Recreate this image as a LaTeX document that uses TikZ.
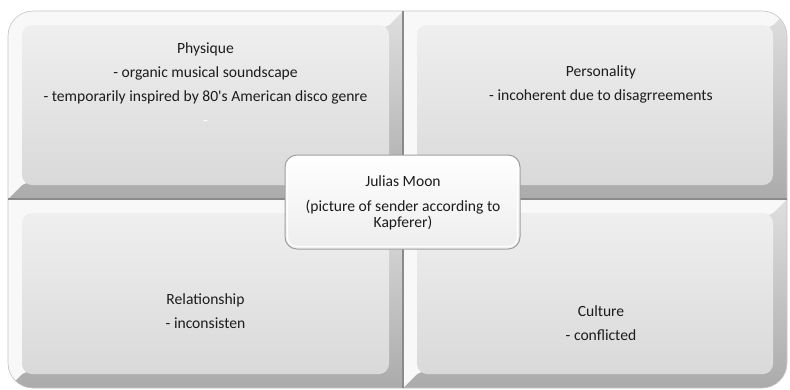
\documentclass[tikz,border=0pt]{standalone}
\usepackage{fontspec}
\setmainfont{Carlito}
\definecolor{txt}{HTML}{1C1C1C}
\definecolor{sepline}{HTML}{8A8A8A}
\definecolor{bevlo}{HTML}{C9C9C9}
\definecolor{bevhi}{HTML}{F8F8F8}
\definecolor{facetop}{HTML}{EFEFEF}
\definecolor{facebot}{HTML}{D9D9D9}
\begin{document}
\begin{tikzpicture}[x=1pt,y=1pt,
  basedark/.style={top color=bevlo!60!white, bottom color=bevlo!85!black},
  lightband/.style={fill=bevhi},
  facefill/.style={top color=facetop, bottom color=facebot, rounded corners=10},
  sepstyle/.style={draw=sepline, line width=1.2pt},
  quadtext/.style={text=txt, align=center, font=\fontsize{15.6}{24}\selectfont},
  centerbox/.style={draw=gray!75, line width=1pt, rounded corners=12, top color=white, bottom color=gray!14, minimum width=235pt, minimum height=94pt},
  centertext/.style={text=txt, align=center, font=\fontsize{15.6}{16.5}\selectfont}]
\useasboundingbox (0,0) rectangle (790,-389);
\fill[white] (0,0) rectangle (790,-389);
\begin{scope}
\clip[rounded corners=25] (8,-11) rectangle (787,-388);
% top-left
\shade[basedark] (8,-11) rectangle (403,-199);
\fill[lightband] (8,-11) -- (403,-11) -- (389,-25) -- (22,-185) -- (8,-199) -- cycle;
\shade[facefill] (22,-25) rectangle (389,-185);
% top-right
\shade[basedark] (403,-11) rectangle (787,-199);
\fill[lightband] (403,-11) -- (787,-11) -- (773,-25) -- (417,-185) -- (403,-199) -- cycle;
\shade[facefill] (417,-25) rectangle (773,-185);
% bottom-left
\shade[basedark] (8,-199) rectangle (403,-388);
\fill[lightband] (8,-199) -- (403,-199) -- (389,-213) -- (22,-374) -- (8,-388) -- cycle;
\shade[facefill] (22,-213) rectangle (389,-374);
% bottom-right
\shade[basedark] (403,-199) rectangle (787,-388);
\fill[lightband] (403,-199) -- (787,-199) -- (773,-213) -- (417,-374) -- (403,-388) -- cycle;
\shade[facefill] (417,-213) rectangle (773,-374);
\end{scope}
\draw[gray!45, line width=0.6pt, rounded corners=25] (8,-11) rectangle (787,-388);
\draw[sepstyle] (403,-11) -- (403,-388);
\draw[sepstyle] (8,-199) -- (787,-199);
% texts
\node[quadtext] (phys) at (205.5,-84) {Physique\\- organic musical soundscape\\- temporarily inspired by 80\textquotesingle s American disco genre\\\textcolor{white}{-}};
\node[quadtext] (pers) at (601,-84) {Personality\\- incoherent due to disagrreements};
\node[quadtext] (rel) at (205.5,-311) {Relationship\\- inconsisten};
\node[quadtext] (cult) at (601,-323) {Culture\\- conflicted};
% center
\node[centerbox] (center) at (402.5,-202) {};
\draw[white, line width=1.2pt, rounded corners=9] ([xshift=3pt,yshift=-3pt]center.north west) rectangle ([xshift=-3pt,yshift=3pt]center.south east);
\node[centertext] (ctext) at (403,-203) {Julias Moon\\[8pt](picture of sender according to\\Kapferer)};
\end{tikzpicture}
\end{document}
